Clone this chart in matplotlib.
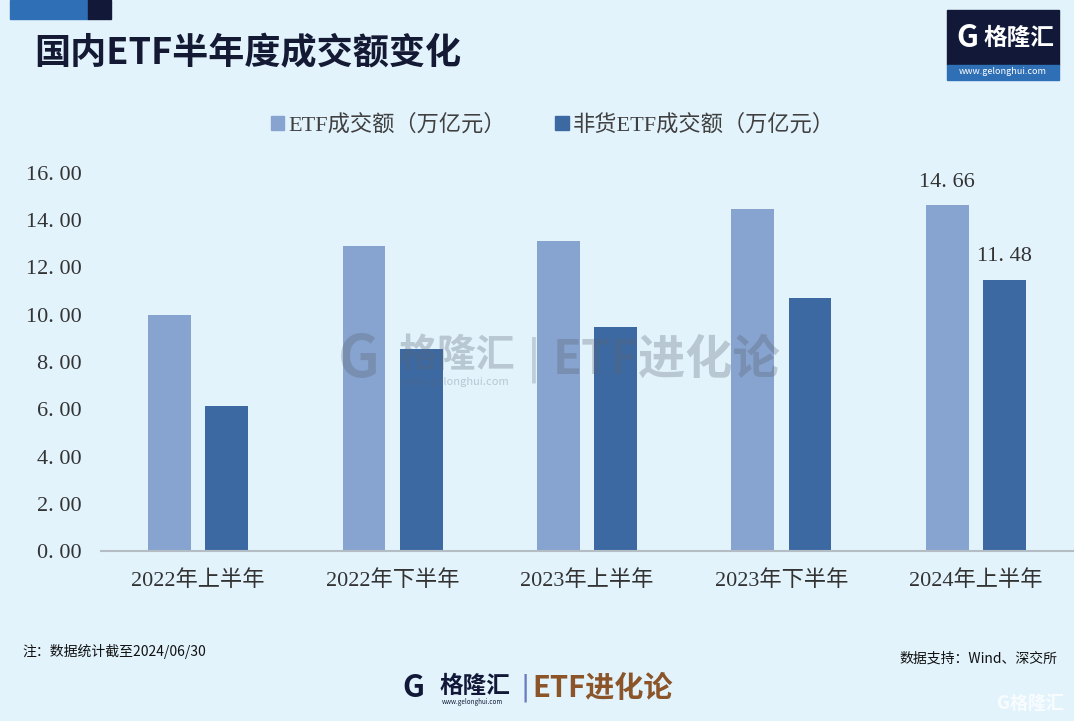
import matplotlib
matplotlib.use("Agg")
import matplotlib.pyplot as plt
from matplotlib.patches import Rectangle

# 数据
periods = ["2022年上半年", "2022年下半年", "2023年上半年", "2023年下半年", "2024年上半年"]
etf_total = [10.00, 12.92, 13.13, 14.48, 14.66]
etf_non_money = [6.15, 8.56, 9.48, 10.72, 11.48]
y_ticks = [0, 2, 4, 6, 8, 10, 12, 14, 16]

BG = "#e2f3fc"
LIGHT = "#87a3cf"
DARK = "#3d69a3"
SERIF = ["Liberation Serif", "Noto Sans CJK SC"]
SANS = ["Noto Sans CJK SC", "DejaVu Sans"]


def fmt(v):
    return f"{v:.2f}".replace(".", ". ")


W, H = 1074, 721
fig = plt.figure(figsize=(W / 100, H / 100), dpi=100, facecolor=BG)
ax = fig.add_axes([101 / W, 1 - 551 / H, 972 / W, 378 / H])
ax.set_facecolor("none")

x = list(range(len(periods)))
bw = 0.22
off = 0.147
ax.bar([i - off for i in x], etf_total, width=bw, color=LIGHT, zorder=2)
ax.bar([i + off for i in x], etf_non_money, width=bw, color=DARK, zorder=2)

ax.set_xlim(-0.5, len(periods) - 0.5)
ax.set_ylim(0, 16)
ax.set_yticks(y_ticks)
ax.set_yticklabels([fmt(v) for v in y_ticks], family=SERIF, fontsize=16, color="#333333")
ax.set_xticks(x)
ax.set_xticklabels(periods, family=SERIF, fontsize=16, color="#333333")
ax.tick_params(axis="y", length=0, pad=14)
ax.tick_params(axis="x", length=0, pad=14)
for s in ["top", "right", "left"]:
    ax.spines[s].set_visible(False)
ax.spines["bottom"].set_color("#b4bcc4")
ax.spines["bottom"].set_linewidth(1.5)

# 最新一期数据标签
last = len(periods) - 1
ax.annotate(fmt(etf_total[last]), (last - off, etf_total[last]), xytext=(0, 9),
            textcoords="offset points", ha="center", va="bottom",
            family=SERIF, fontsize=16, color="#333333")
ax.annotate(fmt(etf_non_money[last]), (last + off, etf_non_money[last]), xytext=(0, 10),
            textcoords="offset points", ha="center", va="bottom",
            family=SERIF, fontsize=16, color="#333333")

# 图例
h1 = Rectangle((0, 0), 1, 1, color=LIGHT)
h2 = Rectangle((0, 0), 1, 1, color=DARK)
fig.legend([h1, h2], ["ETF成交额（万亿元）", "非货ETF成交额（万亿元）"],
           loc="center", bbox_to_anchor=(553 / W, 1 - 125 / H), ncol=2,
           frameon=False, handlelength=0.6, handleheight=0.6, handletextpad=0.2,
           columnspacing=2.2, prop={"family": SERIF, "size": 16}, labelcolor="#404040")

# 中间水印
fig.text(338 / W, 1 - 360 / H, "G", fontsize=42, fontweight="bold", color="#5a6470",
         alpha=0.3, family=SANS, va="center")
fig.text(398 / W, 1 - 355 / H, "格隆汇", fontsize=28, fontweight="bold", color="#5a6470",
         alpha=0.3, family=SANS, va="center")
fig.text(402 / W, 1 - 382 / H, "www.gelonghui.com", fontsize=8, color="#5a6470",
         alpha=0.3, family=SANS, va="center")
fig.text(526 / W, 1 - 360 / H, "|", fontsize=34, color="#5a6470", alpha=0.25, va="center")
fig.text(553 / W, 1 - 360 / H, "ETF进化论", fontsize=34, fontweight="bold", color="#5a6470",
         alpha=0.3, family=SANS, va="center")

# 顶部装饰与标题
fig.patches.append(Rectangle((10 / W, 1 - 19 / H), 78 / W, 19 / H, color="#2f6fb5",
                             transform=fig.transFigure, figure=fig))
fig.patches.append(Rectangle((88 / W, 1 - 19 / H), 23 / W, 19 / H, color="#111838",
                             transform=fig.transFigure, figure=fig))
fig.text(34 / W, 1 - 54 / H, "国内ETF半年度成交额变化", fontsize=26, fontweight="bold",
         color="#141a33", family=SANS, va="center")

# 右上角 logo
fig.patches.append(Rectangle((947 / W, 1 - 65 / H), 112 / W, 55 / H, color="#111838",
                             transform=fig.transFigure, figure=fig))
fig.patches.append(Rectangle((947 / W, 1 - 80 / H), 112 / W, 15 / H, color="#2f6fb5",
                             transform=fig.transFigure, figure=fig))
fig.text(956 / W, 1 - 38 / H, "G", fontsize=22, fontweight="bold", color="white",
         family=SANS, va="center")
fig.text(984 / W, 1 - 38 / H, "格隆汇", fontsize=17, fontweight="bold", color="white",
         family=SANS, va="center")
fig.text(1003 / W, 1 - 72 / H, "www.gelonghui.com", fontsize=6.5, color="white",
         family=SANS, va="center", ha="center")

# 底部注释
fig.text(22 / W, 1 - 651 / H, "注：数据统计截至2024/06/30", fontsize=10, fontweight="medium",
         color="#111111", family=SANS, va="center")
fig.text(1057 / W, 1 - 659 / H, "数据支持：Wind、深交所", fontsize=10, fontweight="medium",
         color="#111111", family=SANS, va="center", ha="right")

# 底部 logo
fig.text(402 / W, 1 - 688 / H, "G", fontsize=22, fontweight="bold", color="#111838",
         family=SANS, va="center")
fig.text(440 / W, 1 - 686 / H, "格隆汇", fontsize=17, fontweight="bold", color="#111838",
         family=SANS, va="center")
fig.text(442 / W, 1 - 702 / H, "www.gelonghui.com", fontsize=4.5, color="#111838",
         family=SANS, va="center")
fig.text(520 / W, 1 - 688 / H, "|", fontsize=20, color="#6a7ac0", va="center")
fig.text(532 / W, 1 - 688 / H, "ETF进化论", fontsize=21, fontweight="bold", color="#8b5529",
         family=SANS, va="center")

# 右下角淡水印
fig.text(997 / W, 1 - 703 / H, "G格隆汇", fontsize=13, fontweight="bold", color="white",
         alpha=0.8, family=SANS, va="center")

fig.savefig("out.png", dpi=100, facecolor=BG)
